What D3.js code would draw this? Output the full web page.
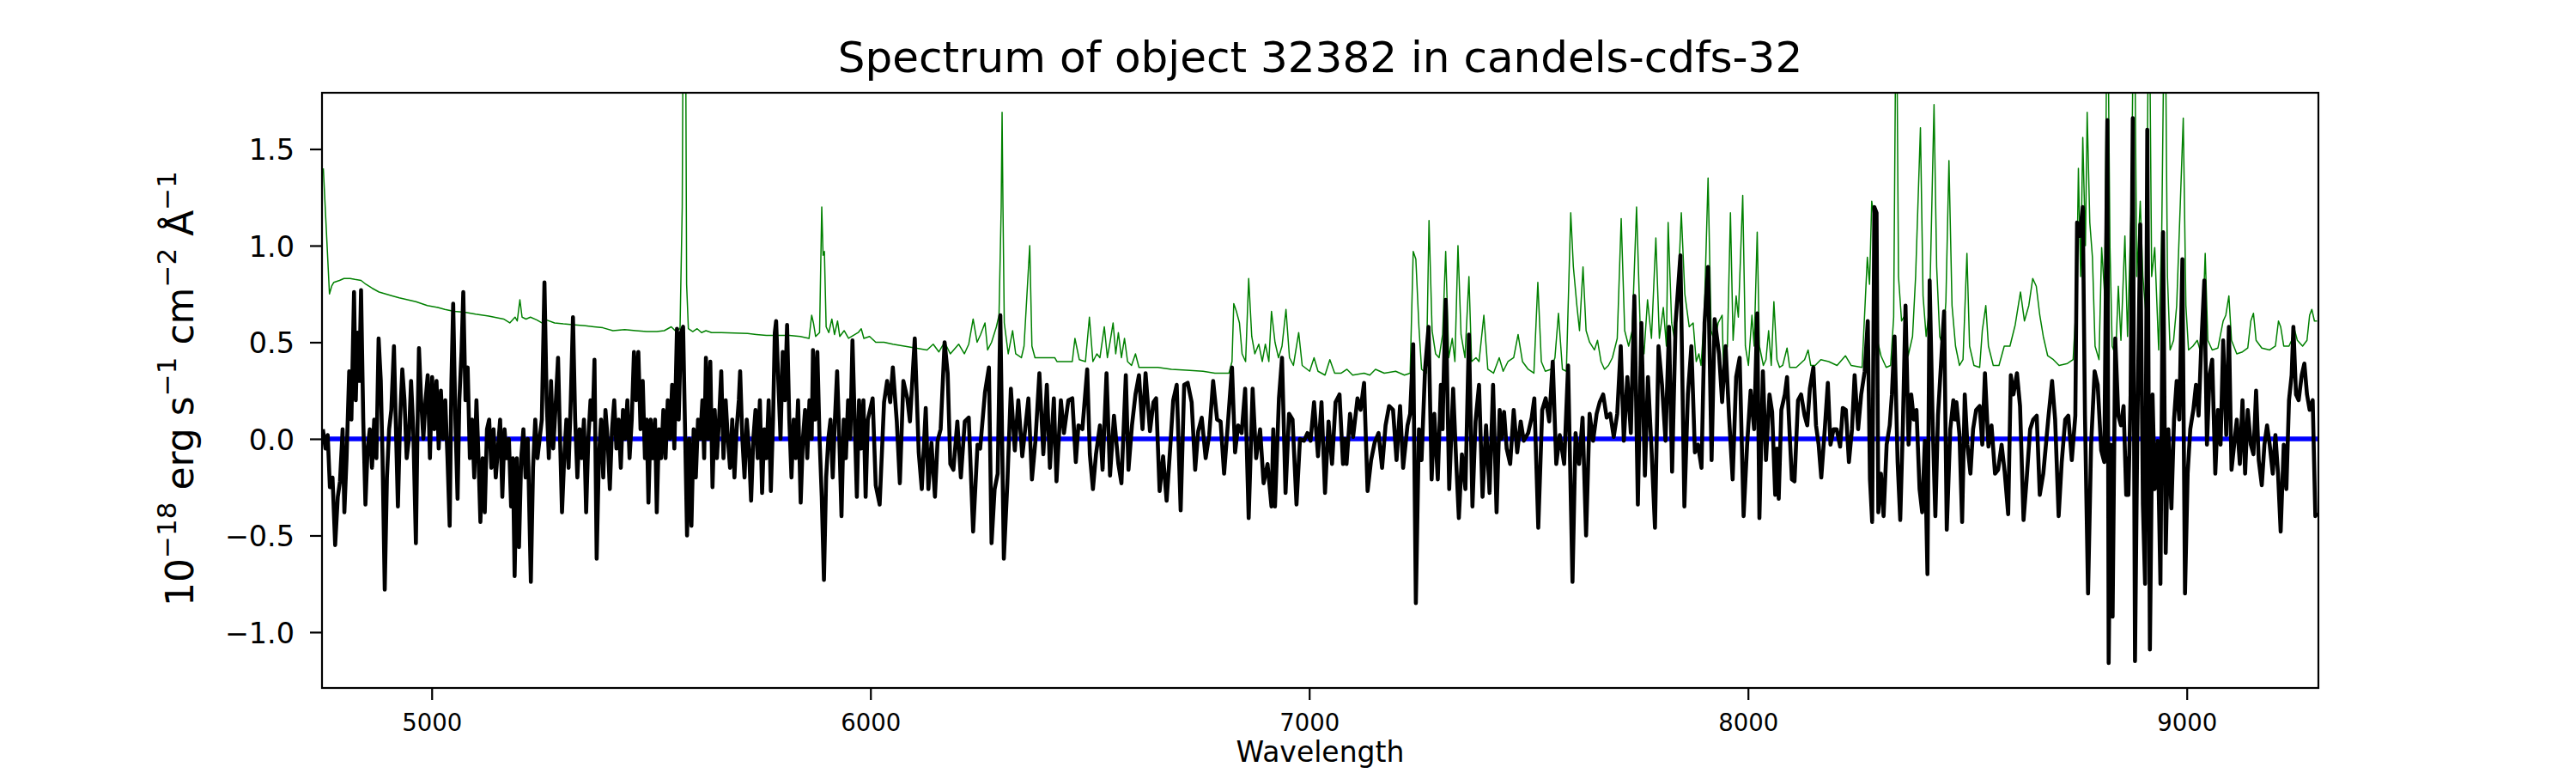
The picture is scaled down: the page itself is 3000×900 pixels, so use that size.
<!DOCTYPE html>
<html>
<head>
<meta charset="utf-8">
<script src="https://cdn.jsdelivr.net/npm/d3@7"></script>
<style>
  body { margin: 0; background: #fff; }
</style>
</head>
<body>
<script>
// figure text
const titleText = "Spectrum of object 32382 in candels-cdfs-32";
const xLabelText = "Wavelength";

// axis ranges and ticks
const xRange = [4750, 9300];
const yRange = [-1.289, 1.791];
const xTicks = [5000, 6000, 7000, 8000, 9000];
const yTicks = [-1.0, -0.5, 0.0, 0.5, 1.0, 1.5];

// zero level drawn in blue
const zeroLine = [[4752, 0], [9298, 0]];

// object flux [wavelength, flux] in 1e-18 erg/s/cm2/A
const spectrum = [
  [4752,0.05],[4758,-0.05],[4763,0.02],[4768,-0.25],[4774,-0.2],[4780,-0.55],[4786,-0.3],[4791,-0.22],[4797,0.05],[4801,-0.38],
  [4806,-0.1],[4812,0.35],[4817,0.1],[4823,0.76],[4827,0.2],[4831,0.55],[4835,0.3],[4839,0.77],[4844,0.1],[4849,-0.34],
  [4854,-0.05],[4859,0.05],[4864,-0.15],[4869,0.1],[4874,-0.1],[4879,0.52],[4884,0.3],[4888,-0.1],[4893,-0.78],[4898,-0.2],
  [4903,0.05],[4908,0.15],[4914,0.48],[4918,0.1],[4923,-0.35],[4928,0.1],[4933,0.36],[4938,0.2],[4943,-0.1],[4948,0.0],
  [4953,0.3],[4958,0.05],[4964,-0.54],[4968,0.1],[4971,0.47],[4976,0.2],[4981,0.0],[4986,0.2],[4991,0.33],[4996,-0.1],
  [5001,0.32],[5006,0.05],[5011,0.3],[5016,-0.05],[5021,0.25],[5026,0.0],[5031,0.2],[5036,-0.1],[5041,-0.45],[5045,0.3],
  [5049,0.70],[5054,0.1],[5059,-0.31],[5063,0.2],[5068,0.45],[5072,0.76],[5077,0.2],[5082,0.37],[5087,-0.1],[5092,0.1],
  [5097,-0.2],[5102,0.2],[5106,-0.05],[5111,-0.43],[5116,-0.1],[5121,-0.38],[5126,0.05],[5131,0.1],[5136,-0.15],[5141,0.05],
  [5146,-0.2],[5151,-0.05],[5156,0.1],[5161,-0.3],[5166,0.05],[5171,-0.1],[5176,0.0],[5181,-0.35],[5185,-0.1],[5189,-0.71],
  [5194,-0.1],[5199,-0.56],[5204,-0.1],[5209,0.05],[5214,-0.2],[5219,0.0],[5226,-0.74],[5231,-0.15],[5236,0.1],[5241,-0.1],
  [5246,0.0],[5251,0.1],[5257,0.81],[5262,0.2],[5267,-0.1],[5272,0.3],[5277,-0.05],[5282,0.15],[5288,0.42],[5292,0.05],
  [5297,-0.38],[5302,-0.1],[5307,0.1],[5312,-0.15],[5317,0.2],[5322,0.63],[5327,0.1],[5332,-0.2],[5337,0.05],[5342,-0.1],
  [5347,0.1],[5352,-0.38],[5357,0.0],[5362,0.2],[5367,0.1],[5371,0.41],[5376,-0.62],[5381,-0.1],[5386,0.1],[5391,-0.2],
  [5396,0.15],[5401,0.0],[5406,-0.26],[5411,0.05],[5416,0.2],[5421,-0.05],[5426,0.1],[5431,-0.15],[5436,0.15],[5441,0.0],
  [5446,0.2],[5451,-0.1],[5456,0.1],[5461,0.45],[5466,0.2],[5471,0.45],[5476,0.05],[5481,0.3],[5486,-0.1],[5490,0.1],
  [5494,-0.33],[5499,0.1],[5504,-0.1],[5509,0.1],[5513,-0.38],[5518,0.05],[5523,-0.1],[5528,0.15],[5533,-0.1],[5538,0.2],
  [5543,0.0],[5548,0.28],[5553,-0.05],[5559,0.57],[5563,0.1],[5568,0.55],[5573,0.58],[5577,0.1],[5582,-0.5],[5587,0.0],
  [5592,-0.45],[5597,0.05],[5602,-0.2],[5607,0.1],[5612,0.0],[5617,0.2],[5621,-0.1],[5625,0.42],[5630,0.0],[5635,0.4],
  [5640,-0.25],[5645,0.15],[5650,-0.1],[5655,0.1],[5660,0.35],[5665,-0.1],[5670,0.2],[5675,0.0],[5680,-0.15],[5685,0.1],
  [5690,-0.2],[5695,0.05],[5700,0.2],[5703,0.35],[5708,0.0],[5713,-0.2],[5718,0.1],[5723,-0.05],[5728,-0.32],[5733,0.0],
  [5738,0.15],[5743,-0.1],[5748,0.2],[5753,-0.28],[5758,0.05],[5763,-0.1],[5768,0.2],[5773,-0.27],[5778,0.1],[5782,0.55],
  [5785,0.61],[5790,0.3],[5795,0.0],[5800,0.45],[5805,0.2],[5810,0.59],[5815,0.1],[5820,-0.2],[5825,0.1],[5830,-0.1],
  [5835,0.2],[5841,-0.33],[5846,0.0],[5851,0.15],[5856,-0.1],[5861,0.2],[5866,0.0],[5869,0.46],[5874,0.1],[5879,0.45],
  [5884,0.0],[5889,-0.3],[5894,-0.73],[5899,-0.2],[5904,0.0],[5909,0.1],[5914,-0.2],[5919,0.1],[5924,0.35],[5929,0.0],
  [5934,-0.4],[5939,0.1],[5944,-0.1],[5949,0.2],[5954,0.0],[5959,0.51],[5964,0.1],[5969,-0.3],[5974,0.2],[5979,-0.05],
  [5984,0.2],[5989,-0.3],[5994,0.1],[6005,0.21],[6012,-0.24],[6021,-0.34],[6031,0.19],[6038,0.30],[6045,0.19],[6051,0.37],
  [6060,0.09],[6067,-0.23],[6075,0.30],[6084,0.21],[6090,0.09],[6101,0.52],[6110,-0.07],[6117,-0.26],[6126,0.16],[6132,-0.26],
  [6139,-0.02],[6147,-0.30],[6153,-0.01],[6160,0.05],[6169,0.50],[6176,0.34],[6182,-0.13],[6189,-0.16],[6198,0.09],[6206,-0.20],
  [6215,0.09],[6224,0.11],[6234,-0.48],[6244,-0.03],[6250,-0.05],[6261,0.24],[6270,0.37],[6276,-0.54],[6283,-0.26],[6290,-0.18],
  [6296,0.64],[6304,-0.62],[6312,-0.23],[6320,0.26],[6329,-0.06],[6337,0.20],[6346,-0.09],[6354,0.08],[6360,0.21],[6368,-0.21],
  [6376,-0.01],[6385,0.34],[6394,-0.08],[6402,0.28],[6409,-0.15],[6418,0.21],[6424,-0.22],[6434,0.20],[6441,0.03],[6451,0.20],
  [6460,0.21],[6468,-0.12],[6474,0.07],[6483,0.05],[6494,0.36],[6500,-0.08],[6507,-0.26],[6514,-0.08],[6523,0.07],[6529,-0.16],
  [6538,0.34],[6546,-0.19],[6555,0.12],[6565,-0.13],[6572,-0.23],[6582,0.33],[6588,-0.16],[6596,0.07],[6604,0.23],[6612,0.33],
  [6620,0.05],[6627,0.34],[6637,0.04],[6645,0.19],[6651,0.21],[6659,-0.27],[6667,-0.09],[6675,-0.32],[6683,-0.05],[6690,0.20],
  [6698,0.28],[6707,-0.37],[6715,0.28],[6723,0.29],[6732,0.19],[6740,-0.16],[6747,0.04],[6755,0.11],[6764,-0.10],[6772,0.02],
  [6781,0.30],[6790,0.10],[6798,0.09],[6806,-0.18],[6815,0.09],[6824,0.37],[6831,-0.07],[6838,0.07],[6846,0.03],[6854,0.26],
  [6862,-0.41],[6871,0.26],[6879,-0.10],[6888,0.05],[6896,-0.23],[6905,-0.13],[6914,-0.35],[6918,0.05],[6922,-0.35],[6931,0.21],
  [6938,0.42],[6946,-0.28],[6954,0.13],[6962,0.10],[6971,-0.34],[6979,0.0],[6988,-0.01],[6996,0.03],[7003,-0.01],[7011,0.19],
  [7020,-0.09],[7028,0.19],[7036,-0.28],[7044,0.09],[7052,-0.13],[7060,0.19],[7069,0.23],[7077,-0.13],[7081,0.0],[7085,-0.13],
  [7093,0.13],[7100,0.01],[7110,0.21],[7117,0.15],[7125,0.29],[7133,-0.27],[7141,-0.11],[7149,-0.02],[7158,0.03],[7166,-0.15],
  [7174,0.07],[7182,0.17],[7191,0.15],[7199,-0.11],[7207,0.17],[7214,-0.15],[7224,0.07],[7230,0.13],[7237,0.49],[7243,-0.85],
  [7250,0.05],[7256,-0.11],[7264,0.36],[7272,0.58],[7279,-0.21],[7285,0.13],[7293,-0.21],[7300,0.28],[7304,0.05],[7306,0.28],
  [7311,0.72],[7319,-0.26],[7328,0.26],[7335,-0.12],[7341,-0.41],[7348,-0.08],[7356,-0.26],[7364,0.54],[7372,-0.35],[7379,0.09],
  [7387,0.28],[7395,-0.30],[7403,0.07],[7411,-0.28],[7419,0.28],[7427,-0.38],[7434,0.15],[7438,0.0],[7444,0.14],[7450,-0.05],
  [7458,-0.13],[7466,0.15],[7474,-0.07],[7482,0.09],[7489,-0.01],[7499,0.03],[7507,0.11],[7513,0.21],[7522,-0.46],[7531,0.15],
  [7539,0.21],[7547,0.09],[7555,0.40],[7563,-0.13],[7571,0.02],[7581,-0.13],[7590,0.38],[7600,-0.74],[7607,0.03],[7615,-0.13],
  [7623,0.11],[7631,-0.50],[7639,0.13],[7647,-0.01],[7655,0.13],[7662,0.19],[7670,0.23],[7678,0.11],[7686,0.13],[7694,0.01],
  [7702,0.13],[7710,0.48],[7717,-0.01],[7725,0.32],[7733,0.03],[7741,0.74],[7749,-0.34],[7757,0.60],[7765,-0.19],[7772,0.32],
  [7780,-0.05],[7788,-0.46],[7796,0.48],[7804,0.28],[7812,-0.01],[7820,0.58],[7827,-0.17],[7835,0.60],[7846,0.95],[7855,-0.35],
  [7863,0.23],[7871,0.48],[7879,-0.07],[7886,-0.03],[7894,-0.15],[7901,0.60],[7909,0.89],[7917,-0.11],[7924,0.62],[7934,0.44],
  [7941,0.19],[7949,0.48],[7957,0.11],[7965,-0.21],[7973,0.32],[7981,0.42],[7990,-0.40],[7998,-0.03],[8006,0.25],[8014,0.05],
  [8021,0.65],[8026,-0.41],[8034,0.35],[8041,-0.11],[8049,0.23],[8055,0.14],[8062,-0.29],[8066,-0.05],[8070,-0.31],[8076,0.15],
  [8084,0.23],[8089,0.32],[8094,0.07],[8100,-0.21],[8106,-0.22],[8114,0.20],[8121,0.23],[8129,0.12],[8135,0.07],[8141,0.26],
  [8149,0.37],[8155,0.07],[8161,-0.03],[8167,-0.20],[8175,0.05],[8182,0.29],[8188,-0.03],[8195,0.05],[8202,0.05],[8210,-0.04],
  [8216,0.16],[8223,0.15],[8230,-0.12],[8237,0.05],[8243,0.33],[8251,0.05],[8258,0.23],[8266,0.35],[8273,0.61],[8278,-0.21],
  [8283,-0.43],[8288,1.20],[8293,1.17],[8297,-0.38],[8303,-0.18],[8309,-0.40],[8316,-0.03],[8323,0.07],[8328,0.23],[8334,0.53],
  [8341,-0.12],[8347,-0.42],[8353,0.07],[8359,0.69],[8366,-0.03],[8372,0.23],[8378,0.10],[8384,0.15],[8391,-0.26],[8397,-0.38],
  [8403,-0.01],[8409,-0.70],[8414,0.82],[8421,0.07],[8427,-0.40],[8433,0.12],[8441,0.43],[8447,0.66],[8453,-0.47],[8461,0.05],
  [8468,0.20],[8472,0.10],[8475,0.19],[8482,0.02],[8488,-0.43],[8494,0.23],[8500,-0.03],[8507,-0.18],[8513,0.05],[8520,0.15],
  [8528,0.17],[8534,-0.03],[8540,0.34],[8548,-0.04],[8555,0.07],[8563,-0.18],[8570,-0.16],[8578,-0.03],[8585,-0.17],[8593,-0.39],
  [8599,0.33],[8605,0.23],[8613,0.34],[8620,0.17],[8628,-0.42],[8635,-0.21],[8643,0.05],[8650,0.10],[8658,0.12],[8665,-0.29],
  [8673,-0.18],[8679,-0.03],[8685,0.12],[8693,0.30],[8700,0.10],[8708,-0.40],[8715,-0.12],[8723,0.10],[8730,0.12],[8738,-0.11],
  [8746,0.12],[8750,1.12],[8756,1.05],[8763,1.20],[8768,0.12],[8775,-0.80],[8782,-0.03],[8790,0.35],[8797,0.28],[8805,-0.06],
  [8812,-0.12],[8819,1.65],[8822,-1.16],[8827,-0.03],[8831,-0.92],[8837,0.52],[8844,0.12],[8850,0.07],[8856,0.17],[8862,-0.29],
  [8865,-0.10],[8867,-0.29],[8872,0.23],[8877,1.66],[8882,-1.15],[8887,-0.03],[8894,1.11],[8900,-0.34],[8905,-0.75],[8910,1.60],
  [8916,-1.09],[8922,0.23],[8927,-0.26],[8934,-0.01],[8940,-0.75],[8946,1.07],[8952,-0.59],[8958,0.05],[8965,-0.36],[8971,0.10],
  [8977,0.30],[8983,0.10],[8990,0.93],[8996,-0.80],[9002,-0.18],[9008,0.05],[9015,0.15],[9021,0.28],[9027,0.12],[9033,0.48],
  [9040,0.82],[9046,-0.03],[9052,0.33],[9058,0.41],[9065,-0.18],[9071,0.15],[9077,-0.03],[9083,0.51],[9090,0.02],[9096,0.58],
  [9102,-0.16],[9108,-0.03],[9114,0.10],[9121,-0.13],[9127,0.20],[9133,-0.18],[9139,0.15],[9146,-0.03],[9152,-0.08],[9158,0.25],
  [9164,-0.11],[9171,-0.24],[9177,-0.03],[9183,0.07],[9189,-0.03],[9196,-0.18],[9202,0.02],[9208,-0.18],[9214,-0.48],[9221,-0.03],
  [9227,-0.26],[9233,0.20],[9239,0.33],[9243,0.58],[9249,0.23],[9255,0.20],[9262,0.33],[9268,0.39],[9274,0.23],[9280,0.15],
  [9287,0.20],[9293,-0.40],[9298,-0.38]
];

// noise / sky spectrum [wavelength, flux]
const sky = [
  [4753,1.40],[4767,0.75],[4772,0.79],[4777,0.81],[4790,0.82],[4800,0.83],[4814,0.83],[4825,0.825],[4839,0.82],[4850,0.80],
  [4864,0.78],[4880,0.76],[4895,0.75],[4910,0.74],[4926,0.73],[4945,0.72],[4964,0.71],[4990,0.69],[5014,0.68],[5030,0.67],
  [5051,0.66],[5075,0.655],[5100,0.645],[5130,0.635],[5164,0.62],[5178,0.60],[5190,0.63],[5195,0.61],[5201,0.72],[5206,0.63],
  [5215,0.62],[5225,0.63],[5240,0.615],[5251,0.60],[5262,0.615],[5280,0.60],[5300,0.595],[5326,0.59],[5350,0.585],[5370,0.58],
  [5390,0.575],[5413,0.56],[5440,0.565],[5465,0.56],[5490,0.555],[5513,0.555],[5530,0.56],[5546,0.58],[5555,0.56],[5566,0.57],
  [5571,1.2],[5574,2.6],[5578,2.6],[5581,0.8],[5585,0.57],[5595,0.555],[5605,0.57],[5615,0.55],[5625,0.56],[5638,0.55],
  [5660,0.55],[5690,0.548],[5720,0.545],[5740,0.54],[5763,0.535],[5790,0.535],[5815,0.535],[5840,0.53],[5860,0.52],[5866,0.64],
  [5870,0.60],[5875,0.53],[5884,0.55],[5889,1.20],[5892,0.95],[5895,0.97],[5899,0.58],[5905,0.55],[5912,0.62],[5918,0.54],
  [5925,0.61],[5930,0.53],[5940,0.56],[5950,0.52],[5972,0.55],[5979,0.57],[5985,0.52],[5998,0.53],[6012,0.50],[6031,0.50],
  [6051,0.49],[6077,0.48],[6103,0.47],[6129,0.46],[6143,0.49],[6156,0.45],[6169,0.50],[6182,0.44],[6201,0.49],[6214,0.44],
  [6224,0.49],[6234,0.62],[6243,0.50],[6251,0.54],[6261,0.60],[6267,0.46],[6276,0.50],[6287,0.58],[6293,0.64],[6298,1.2],
  [6300,1.69],[6302,1.2],[6305,0.60],[6314,0.44],[6324,0.56],[6331,0.44],[6344,0.42],[6350,0.48],[6363,1.00],[6368,0.48],
  [6375,0.42],[6395,0.42],[6420,0.42],[6425,0.40],[6444,0.40],[6460,0.40],[6466,0.52],[6476,0.41],[6490,0.40],[6499,0.63],
  [6507,0.40],[6516,0.44],[6523,0.42],[6533,0.58],[6540,0.42],[6546,0.50],[6553,0.60],[6559,0.44],[6565,0.55],[6572,0.42],
  [6579,0.52],[6586,0.40],[6595,0.38],[6604,0.44],[6612,0.37],[6628,0.37],[6655,0.37],[6686,0.36],[6720,0.355],[6758,0.35],
  [6785,0.34],[6817,0.34],[6824,0.40],[6828,0.70],[6834,0.66],[6841,0.60],[6847,0.44],[6855,0.40],[6862,0.83],[6869,0.53],
  [6876,0.44],[6885,0.49],[6893,0.40],[6900,0.49],[6908,0.40],[6914,0.66],[6922,0.50],[6930,0.42],[6938,0.48],[6947,0.67],
  [6955,0.42],[6964,0.38],[6976,0.55],[6984,0.38],[7001,0.35],[7011,0.42],[7020,0.35],[7036,0.33],[7047,0.41],[7058,0.34],
  [7073,0.34],[7086,0.36],[7099,0.33],[7125,0.34],[7138,0.33],[7151,0.36],[7171,0.34],[7197,0.35],[7217,0.33],[7230,0.34],
  [7237,0.97],[7243,0.93],[7250,0.58],[7256,0.36],[7267,0.34],[7273,1.13],[7280,0.56],[7288,0.44],[7296,0.42],[7304,0.54],
  [7311,0.97],[7318,0.42],[7326,0.52],[7332,0.40],[7339,1.00],[7346,0.54],[7355,0.42],[7364,0.84],[7370,0.40],[7380,0.42],
  [7387,0.40],[7398,0.64],[7407,0.36],[7420,0.34],[7433,0.42],[7442,0.35],[7453,0.40],[7466,0.42],[7476,0.54],[7486,0.40],
  [7499,0.36],[7512,0.34],[7521,0.81],[7529,0.40],[7538,0.35],[7551,0.36],[7560,0.42],[7568,0.65],[7577,0.36],[7586,0.35],
  [7596,1.17],[7602,0.89],[7610,0.69],[7616,0.56],[7624,0.89],[7631,0.56],[7639,0.50],[7650,0.46],[7657,0.51],[7665,0.40],
  [7673,0.36],[7682,0.38],[7691,0.42],[7702,0.52],[7711,1.14],[7719,0.56],[7728,0.48],[7736,0.56],[7746,1.20],[7754,0.60],
  [7763,0.44],[7771,0.72],[7780,0.52],[7790,1.04],[7798,0.52],[7807,0.68],[7814,0.48],[7818,1.12],[7826,0.60],[7832,0.52],
  [7839,0.68],[7848,1.17],[7856,0.75],[7866,0.58],[7875,0.60],[7882,0.40],[7888,0.44],[7893,0.38],[7900,0.62],[7909,1.35],
  [7916,0.56],[7924,0.50],[7932,0.60],[7941,0.64],[7944,0.38],[7953,0.48],[7960,1.17],[7966,0.51],[7973,0.74],[7978,0.63],
  [7988,1.26],[7994,0.48],[8001,0.38],[8009,0.64],[8014,0.48],[8021,1.07],[8026,0.48],[8035,0.38],[8041,0.41],[8047,0.56],
  [8053,0.38],[8059,0.71],[8066,0.41],[8072,0.37],[8079,0.38],[8089,0.47],[8095,0.37],[8110,0.37],[8129,0.41],[8137,0.46],
  [8143,0.38],[8153,0.38],[8166,0.41],[8184,0.40],[8203,0.38],[8222,0.43],[8235,0.38],[8260,0.37],[8272,0.94],[8277,0.80],
  [8282,1.23],[8288,1.13],[8293,0.53],[8303,0.43],[8315,0.37],[8325,0.38],[8332,0.63],[8338,2.5],[8343,0.84],[8350,0.61],
  [8358,0.64],[8365,0.43],[8375,0.53],[8382,0.84],[8393,1.61],[8399,0.74],[8406,0.53],[8414,0.69],[8424,1.73],[8430,0.89],
  [8437,0.53],[8444,0.48],[8451,0.71],[8458,1.44],[8465,0.69],[8473,0.48],[8482,0.38],[8490,0.41],[8499,0.96],[8505,0.48],
  [8515,0.38],[8528,0.37],[8534,0.56],[8542,0.69],[8548,0.48],[8559,0.38],[8572,0.38],[8584,0.48],[8597,0.48],[8609,0.59],
  [8621,0.76],[8630,0.61],[8640,0.69],[8649,0.83],[8657,0.79],[8665,0.64],[8673,0.53],[8683,0.43],[8696,0.41],[8709,0.38],
  [8728,0.39],[8741,0.41],[8749,0.74],[8753,1.40],[8758,0.84],[8763,1.56],[8769,1.0],[8773,1.69],[8779,1.12],[8785,0.94],
  [8791,0.48],[8800,0.41],[8806,0.99],[8813,0.74],[8819,2.5],[8825,0.99],[8830,0.48],[8838,0.43],[8844,0.79],[8850,0.51],
  [8859,1.05],[8865,0.53],[8874,1.25],[8880,2.5],[8886,0.84],[8894,1.23],[8900,0.84],[8907,0.64],[8914,2.5],[8920,0.84],
  [8927,0.99],[8936,0.46],[8943,1.08],[8950,2.5],[8956,0.84],[8962,0.46],[8970,0.51],[8977,0.69],[8985,1.20],[8992,1.66],
  [8998,0.69],[9004,0.46],[9014,0.48],[9024,0.51],[9034,0.43],[9042,0.96],[9048,0.51],[9058,0.46],[9071,0.47],[9083,0.61],
  [9089,0.64],[9096,0.74],[9102,0.51],[9114,0.44],[9127,0.45],[9139,0.47],[9146,0.61],[9152,0.65],[9158,0.51],[9171,0.47],
  [9189,0.46],[9202,0.48],[9209,0.61],[9214,0.58],[9221,0.48],[9233,0.48],[9239,0.51],[9245,0.57],[9252,0.51],[9264,0.48],
  [9274,0.51],[9280,0.64],[9285,0.67],[9291,0.61],[9297,0.61]
];

const width = 3000, height = 900;
const margin = {left: 375, right: 300, top: 108, bottom: 99};
const font = "DejaVu Sans";

let svg = d3.select("body").append("svg")
  .attr("width", width)
  .attr("height", height)
  .style("background-color", "#ffffff");

const x = d3.scaleLinear()
  .domain(xRange)
  .range([margin.left, width - margin.right]);

const y = d3.scaleLinear()
  .domain(yRange)
  .range([height - margin.bottom, margin.top]);

// keep the lines inside the frame
svg.append("defs").append("clipPath")
  .attr("id", "plotArea")
  .append("rect")
  .attr("x", x(xRange[0]))
  .attr("y", y(yRange[1]))
  .attr("width", x(xRange[1]) - x(xRange[0]))
  .attr("height", y(yRange[0]) - y(yRange[1]));

const line = d3.line()
  .x(d => x(d[0]))
  .y(d => y(d[1]));

const plot = svg.append("g").attr("clip-path", "url(#plotArea)");

plot.append("path")
  .datum(sky)
  .attr("fill", "none")
  .attr("stroke", "#008000")
  .attr("stroke-width", 1.5)
  .attr("stroke-linejoin", "round")
  .attr("d", line);

plot.append("path")
  .datum(zeroLine)
  .attr("fill", "none")
  .attr("stroke", "#0000ff")
  .attr("stroke-width", 5.6)
  .attr("d", line);

plot.append("path")
  .datum(spectrum)
  .attr("fill", "none")
  .attr("stroke", "#000000")
  .attr("stroke-width", 4.6)
  .attr("stroke-linejoin", "round")
  .attr("d", line);

// axes
const xAxis = svg.append("g")
  .attr("transform", `translate(0,${height - margin.bottom})`)
  .call(d3.axisBottom(x).tickValues(xTicks).tickSize(14).tickPadding(16).tickFormat(d3.format("d")));

xAxis.select(".domain").remove();
xAxis.selectAll(".tick line").attr("stroke", "black").attr("stroke-width", 2.2);
xAxis.selectAll(".tick text")
  .attr("font-family", font)
  .attr("font-size", "27.5px")
  .attr("fill", "black");

const yAxis = svg.append("g")
  .attr("transform", `translate(${margin.left},0)`)
  .call(d3.axisLeft(y).tickValues(yTicks).tickSize(14).tickPadding(18).tickFormat(d => d3.format(".1f")(d).replace("-", "\u2212")));

yAxis.select(".domain").remove();
yAxis.selectAll(".tick line").attr("stroke", "black").attr("stroke-width", 2.2);
yAxis.selectAll(".tick text")
  .attr("font-family", font)
  .attr("font-size", "33.5px")
  .attr("dy", "0.36em")
  .attr("fill", "black");

// frame
svg.append("rect")
  .attr("x", x(xRange[0]))
  .attr("y", y(yRange[1]))
  .attr("width", x(xRange[1]) - x(xRange[0]))
  .attr("height", y(yRange[0]) - y(yRange[1]))
  .attr("fill", "none")
  .attr("stroke", "black")
  .attr("stroke-width", 2.2);

// title and labels
const midX = (x(xRange[0]) + x(xRange[1])) / 2;

svg.append("text")
  .attr("x", midX)
  .attr("y", 84)
  .attr("text-anchor", "middle")
  .attr("font-family", font)
  .attr("font-size", "50px")
  .attr("fill", "black")
  .text(titleText);

svg.append("text")
  .attr("x", midX)
  .attr("y", 887)
  .attr("text-anchor", "middle")
  .attr("font-family", font)
  .attr("font-size", "33px")
  .attr("fill", "black")
  .text(xLabelText);

// y label with superscripts
const yLabelParts = [
  {t: "10", sup: false}, {t: "\u221218", sup: true},
  {t: " erg s", sup: false}, {t: "\u22121", sup: true},
  {t: " cm", sup: false}, {t: "\u22122", sup: true},
  {t: " \u00c5", sup: false}, {t: "\u22121", sup: true}
];

const yLabel = svg.append("text")
  .attr("transform", `translate(225,${(y(yRange[0]) + y(yRange[1])) / 2 - 2}) rotate(-90)`)
  .attr("text-anchor", "middle")
  .attr("font-family", font)
  .attr("font-size", "44px")
  .attr("fill", "black")
  .style("white-space", "pre");

let raised = false;
yLabelParts.forEach(p => {
  let span = yLabel.append("tspan").text(p.t);
  if (p.sup) {
    span.attr("font-size", "31px").attr("dy", -20);
    raised = true;
  } else if (raised) {
    span.attr("dy", 20);
    raised = false;
  }
});
</script>
</body>
</html>
